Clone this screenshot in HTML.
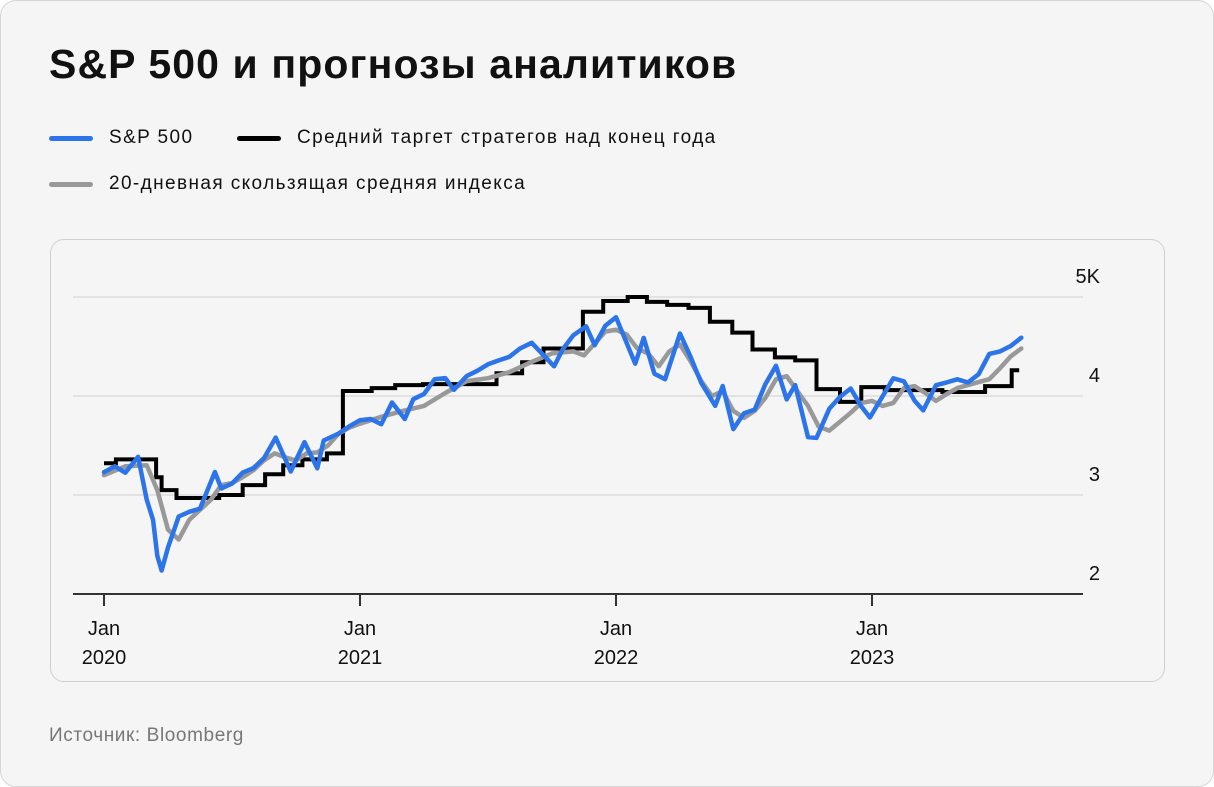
<!DOCTYPE html>
<html><head><meta charset="utf-8"><style>
body{margin:0;width:1214px;height:787px;background:#fff;font-family:"Liberation Sans",sans-serif;overflow:hidden}
#card{position:absolute;left:0;top:0;width:1212px;height:785px;border:1px solid #d6d6d6;border-radius:16px;background:#f5f5f5}
#title{position:absolute;left:48px;top:40px;font-size:41px;font-weight:bold;color:#111;letter-spacing:1.1px}
.leg{position:absolute;font-size:19px;color:#111;display:flex;align-items:center;letter-spacing:1.4px}
.sw{display:inline-block;width:44px;height:5px;border-radius:3px;margin-right:16px}
#src{position:absolute;left:48px;top:724px;font-size:19px;color:#777;letter-spacing:0.6px}
#box{position:absolute;left:49px;top:238px;width:1115px;height:443px;border:1px solid #cfcfcf;border-radius:14px;box-sizing:border-box}
svg{position:absolute;left:0;top:0}
</style></head><body>
<div id="card">
<div id="title">S&amp;P 500 и прогнозы аналитиков</div>
<div class="leg" style="left:48px;top:126px"><span class="sw" style="background:#2b74ea"></span>S&amp;P 500</div>
<div class="leg" style="left:236px;top:126px"><span class="sw" style="background:#000"></span>Средний таргет стратегов над конец года</div>
<div class="leg" style="left:48px;top:172px"><span class="sw" style="background:#999"></span>20-дневная скользящая средняя индекса</div>
<div id="box"></div>
<div id="src">Источник: Bloomberg</div>
</div>
<svg id="chart" width="1214" height="787"></svg>
<script>
// t = months since Jan 2020
const spT=[0,0.5,1,1.6,2,2.3,2.5,2.7,3,3.5,4,4.5,5.2,5.5,6,6.5,7,7.5,8.05,8.75,9.4,10,10.3,11,11.5,12,12.5,13,13.5,14.1,14.5,15,15.5,16,16.4,17,17.5,18,18.5,19,19.5,20.05,21.1,21.5,22,22.6,23,23.5,24,24.9,25.3,25.8,26.3,27,27.5,28,28.65,29,29.5,30,30.5,31,31.5,32,32.4,33,33.4,34,34.5,35,35.5,35.9,36.5,37,37.5,38,38.4,39,39.5,40,40.5,41,41.5,42,42.5,43];
const spV=[3230,3290,3225,3386,2954,2746,2386,2237,2470,2783,2830,2863,3232,3066,3115,3226,3271,3372,3580,3237,3534,3270,3550,3621,3694,3756,3768,3714,3934,3768,3968,4020,4170,4181,4063,4202,4255,4320,4360,4395,4480,4537,4300,4471,4613,4704,4513,4709,4796,4326,4587,4225,4170,4631,4392,4131,3901,4101,3666,3825,3863,4118,4305,3966,4110,3585,3577,3871,3991,4076,3895,3783,3999,4179,4147,3951,3855,4109,4137,4169,4136,4221,4425,4450,4505,4589];
const maT=[0,1,2,2.5,3,3.5,4,4.5,5,5.5,6,6.5,7,7.5,8,8.5,9,9.5,10,10.5,11,11.5,12,13,14,15,16,17,18,19,20,21,22,22.5,23,23.5,24,24.5,25,25.5,26,26.5,27,27.5,28,28.5,29,29.5,30,30.5,31,31.5,32,32.5,33,33.5,34,35,35.5,36,36.5,37,37.5,38,38.5,39,39.5,40,40.5,41,41.5,42,42.5,43];
const maV=[3200,3290,3300,3050,2650,2550,2750,2850,2950,3100,3120,3180,3250,3350,3420,3380,3350,3420,3430,3500,3620,3680,3720,3790,3850,3900,4030,4150,4180,4240,4340,4430,4450,4410,4530,4650,4670,4620,4480,4430,4300,4450,4520,4350,4150,4000,4050,3850,3780,3850,3980,4170,4200,4050,3900,3690,3650,3830,3930,3950,3900,3930,4080,4100,4030,3950,4020,4080,4110,4140,4170,4280,4400,4480];
const tgT=[0,0.56,2.44,2.7,3.4,5.4,6.5,7.55,8.4,9.3,10.45,11.2,12.55,13.65,14.95,18.4,19.6,20.6,22.45,23.4,24.55,25.45,26.4,27.4,28.4,29.45,30.4,31.45,32.4,33.4,34.5,35.5,36.6,39.3,41.3,42.55];
const tgV=[3320,3360,3180,3050,2970,3000,3100,3210,3300,3360,3420,4050,4080,4110,4120,4230,4340,4480,4850,4960,5000,4950,4920,4890,4750,4640,4470,4390,4360,4070,3940,4090,4060,4040,4100,4260];
const yTicks=[2000,3000,4000,5000];
const yLabels=["2","3","4","5K"];
const xTicks=[0,12,24,36];
const xLabels=["2020","2021","2022","2023"];
const svg=document.getElementById('chart');
const NS='http://www.w3.org/2000/svg';
const X=t=>104+t*256/12;
const Y=v=>594-(v-2000)*0.099;
function mk(tag,at){const e=document.createElementNS(NS,tag);for(const k in at)e.setAttribute(k,at[k]);svg.appendChild(e);return e;}
yTicks.forEach((v,i)=>{
  if(i>0){const g=mk('line',{x1:73,x2:1083,y1:Y(v),y2:Y(v),stroke:'#e2e2e2','stroke-width':2});
  
  }
  const t=mk('text',{x:1100,y:Y(v)-14,'text-anchor':'end','font-size':20,fill:'#111','font-family':'Liberation Sans'});
  t.textContent=yLabels[i];
  
  
});
const ax=mk('line',{x1:73,x2:1083,y1:594,y2:594,stroke:'#333','stroke-width':2});


xTicks.forEach((m,i)=>{
  const tk=mk('line',{x1:X(m),x2:X(m),y1:594,y2:606,stroke:'#333','stroke-width':2});
  
  
  const a=mk('text',{x:X(m),y:635,'text-anchor':'middle','font-size':20,fill:'#111','font-family':'Liberation Sans'});
  a.textContent='Jan';
  
  
  const b=mk('text',{x:X(m),y:664,'text-anchor':'middle','font-size':20,fill:'#111','font-family':'Liberation Sans'});
  b.textContent=xLabels[i];
  
  
});
function line(T,V){return T.map((t,i)=>(i?'L':'M')+X(t).toFixed(1)+','+Y(V[i]).toFixed(1)).join('');}
function step(T,V){let d='';T.forEach((t,i)=>{d+=i?('H'+X(t).toFixed(1)+'V'+Y(V[i]).toFixed(1)):('M'+X(t).toFixed(1)+','+Y(V[i]).toFixed(1));});return d+'H'+X(42.9).toFixed(1);}
const tg=mk('path',{d:step(tgT,tgV),fill:'none',stroke:'#000','stroke-width':4});


const ma=mk('path',{d:line(maT,maV),fill:'none',stroke:'#999','stroke-width':4.5,'stroke-linejoin':'round','stroke-linecap':'round'});


const sp=mk('path',{d:line(spT,spV),fill:'none',stroke:'#2b74ea','stroke-width':4.5,'stroke-linejoin':'round','stroke-linecap':'round'});


</script>
</body></html>
